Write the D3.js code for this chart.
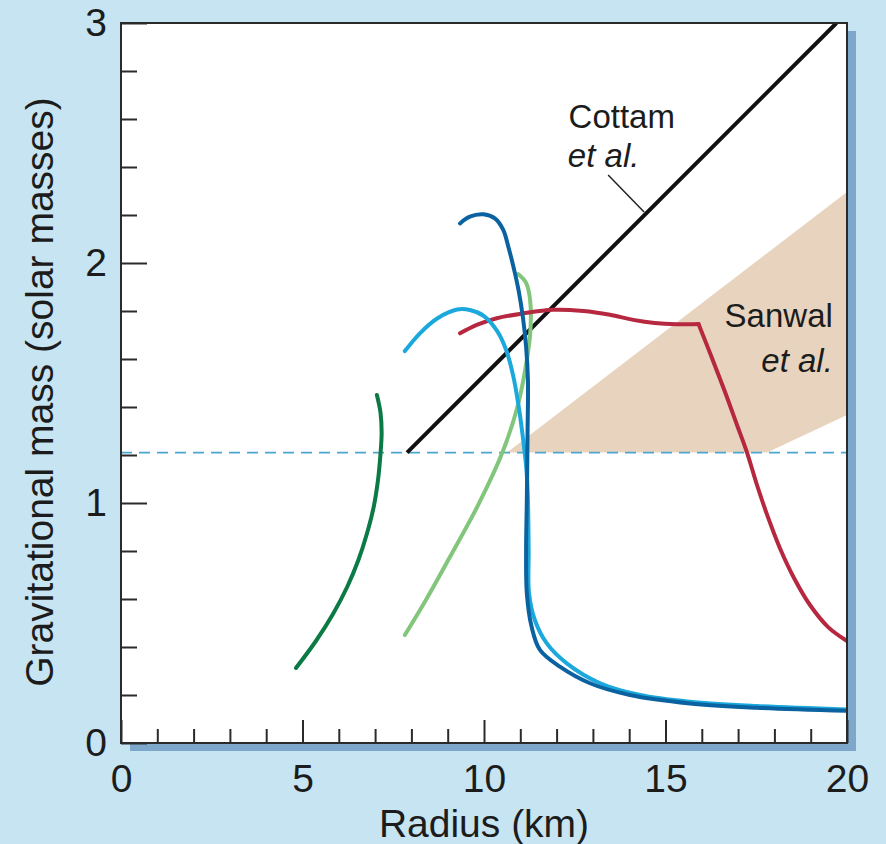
<!DOCTYPE html>
<html>
<head>
<meta charset="utf-8">
<script src="https://cdn.jsdelivr.net/npm/d3@7"></script>
<style>
  html, body { margin: 0; padding: 0; background: #c6e4f1; }
  svg { display: block; }
  text { font-family: "Liberation Sans", Arial, Helvetica, sans-serif; fill: #1c1c1c; }
</style>
</head>
<body>
<svg id="chart" width="886" height="844"></svg>
<script>
// Axis ranges and ticks
const xDomain = [0, 20];
const yDomain = [0, 3];
const xMajorTicks = [0, 5, 10, 15, 20];
const xMinorTicks = [1, 2, 3, 4, 6, 7, 8, 9, 11, 12, 13, 14, 16, 17, 18, 19];
const yMajorTicks = [0, 1, 2, 3];
const yMinorTicks = [0.2, 0.4, 0.6, 0.8, 1.2, 1.4, 1.6, 1.8, 2.2, 2.4, 2.6, 2.8];

// Lower bound on the mass (solar masses), dashed
const massFloor = 1.21;

// Cottam et al. constraint: a straight M-R relation [radius km, mass]
const cottamLine = [[7.88, 1.21], [19.71, 3.0]];

// Sanwal et al. allowed band [radius km, mass]
const sanwalBand = [[10.63, 1.21], [20, 2.296], [20, 1.367], [17.8, 1.21]];

// Mass-radius curves of the equations of state [radius km, mass]
const eosDarkGreen = [
  [7.05, 1.45], [7.15, 1.375], [7.18, 1.292], [7.15, 1.208], [7.08, 1.096],
  [6.96, 0.983], [6.78, 0.875], [6.54, 0.7625], [6.23, 0.65], [5.84, 0.5375],
  [5.37, 0.425], [4.82, 0.3125]
];
const eosLightGreen = [
  [10.94, 1.954], [11.16, 1.917], [11.27, 1.846], [11.28, 1.721], [11.18, 1.596],
  [10.92, 1.40], [10.50, 1.208], [9.81, 0.983], [9.06, 0.775], [8.40, 0.596],
  [7.82, 0.45]
];
const eosCyan = [
  [7.82, 1.633], [8.24, 1.708], [8.71, 1.769], [9.26, 1.806], [9.61, 1.804],
  [10.0, 1.779], [10.36, 1.717], [10.61, 1.6375], [10.80, 1.533], [10.95, 1.408],
  [11.07, 1.275], [11.17, 1.1375], [11.21, 1.0125], [11.23, 0.804], [11.24, 0.625],
  [11.40, 0.5125], [11.73, 0.415], [12.28, 0.332], [13.20, 0.249], [14.30, 0.200],
  [15.67, 0.172], [17.51, 0.154], [20.0, 0.140]
];
const eosBlue = [
  [9.34, 2.165], [9.61, 2.193], [9.98, 2.203], [10.30, 2.186], [10.53, 2.138],
  [10.67, 2.068], [10.81, 1.985], [10.95, 1.888], [11.07, 1.776], [11.16, 1.651],
  [11.21, 1.513], [11.20, 1.292], [11.18, 1.013], [11.16, 0.804], [11.18, 0.624],
  [11.31, 0.485], [11.54, 0.388], [12.09, 0.318], [12.92, 0.249], [14.02, 0.200],
  [15.67, 0.165], [17.51, 0.147], [20.0, 0.134]
];
// Red curve: a smooth plateau, then a kinked drop
const eosRedPlateau = [
  [9.34, 1.707], [9.80, 1.742], [10.35, 1.770], [11.08, 1.790], [11.90, 1.805],
  [12.74, 1.800], [13.47, 1.784], [14.11, 1.763], [14.70, 1.750], [15.30, 1.745],
  [15.91, 1.746]
];
const eosRedDrop = [
  [15.91, 1.746], [16.28, 1.604], [16.64, 1.4625], [16.97, 1.325], [17.25, 1.208],
  [17.52, 1.075], [17.82, 0.942], [18.15, 0.8125], [18.54, 0.6875], [18.98, 0.575],
  [19.48, 0.483], [20.0, 0.425]
];

const svg = d3.select("#chart");
const W = 886, H = 844;
const margin = { top: 23, right: 39, bottom: 101, left: 121 };
const pw = W - margin.left - margin.right;
const ph = H - margin.top - margin.bottom;

const x = d3.scaleLinear().domain(xDomain).range([0, pw]);
const y = d3.scaleLinear().domain(yDomain).range([ph, 0]);

// drop shadow behind the plot panel
svg.append("rect")
  .attr("x", margin.left + 9).attr("y", margin.top + 8)
  .attr("width", pw).attr("height", ph)
  .attr("fill", "#7ea8cb");

const g = svg.append("g").attr("transform", `translate(${margin.left},${margin.top})`);

g.append("rect").attr("width", pw).attr("height", ph).attr("fill", "#ffffff");

g.append("clipPath").attr("id", "plotClip")
  .append("rect").attr("width", pw).attr("height", ph);

const plot = g.append("g").attr("clip-path", "url(#plotClip)");

// Sanwal band
plot.append("path")
  .datum(sanwalBand)
  .attr("d", d3.line().x(d => x(d[0])).y(d => y(d[1])).curve(d3.curveLinearClosed))
  .attr("fill", "#e8d4be");

// mass floor
plot.append("line")
  .attr("x1", x(0)).attr("x2", x(20))
  .attr("y1", y(massFloor)).attr("y2", y(massFloor))
  .attr("stroke", "#4aa6cf").attr("stroke-width", 1.6)
  .attr("stroke-dasharray", "11,7");

const straight = d3.line().x(d => x(d[0])).y(d => y(d[1]));
const smooth = d3.line().x(d => x(d[0])).y(d => y(d[1])).curve(d3.curveCatmullRom.alpha(0.5));

// Cottam line
plot.append("path").datum(cottamLine).attr("d", straight)
  .attr("fill", "none").attr("stroke", "#111").attr("stroke-width", 4);

// leader from the Cottam label to its line
plot.append("line")
  .attr("x1", x(13.42)).attr("y1", y(2.367))
  .attr("x2", x(14.41)).attr("y2", y(2.2125))
  .attr("stroke", "#222").attr("stroke-width", 1.5);

const curves = [
  { data: eosDarkGreen, color: "#0b7a45" },
  { data: eosLightGreen, color: "#82c67c" },
  { data: eosRedPlateau, color: "#b5283f" },
  { data: eosRedDrop, color: "#b5283f" },
  { data: eosCyan, color: "#1ba8dc" },
  { data: eosBlue, color: "#0b62a0" }
];
curves.forEach(c => {
  plot.append("path").datum(c.data).attr("d", smooth)
    .attr("fill", "none").attr("stroke", c.color)
    .attr("stroke-width", 4).attr("stroke-linecap", "round").attr("stroke-linejoin", "round");
});

// Axes with inward ticks
const tickStroke = "#2a2a2a";
const axisFont = 39;

const yMajor = g.append("g").call(d3.axisLeft(y).tickValues(yMajorTicks).tickSize(-26).tickPadding(14).tickFormat(d3.format("d")));
const yMinor = g.append("g").call(d3.axisLeft(y).tickValues(yMinorTicks).tickSize(-16).tickFormat(""));
const xMajor = g.append("g").attr("transform", `translate(0,${ph})`)
  .call(d3.axisBottom(x).tickValues(xMajorTicks).tickSize(-23).tickPadding(21).tickFormat(d3.format("d")));
const xMinor = g.append("g").attr("transform", `translate(0,${ph})`)
  .call(d3.axisBottom(x).tickValues(xMinorTicks).tickSize(-14).tickFormat(""));

[yMajor, yMinor, xMajor, xMinor].forEach(a => {
  a.select(".domain").remove();
  a.selectAll(".tick line").attr("stroke", tickStroke).attr("stroke-width", 2);
  a.selectAll(".tick text").attr("font-size", axisFont).attr("fill", "#1c1c1c")
    .style("font-family", "'Liberation Sans', Arial, Helvetica, sans-serif");
});

// panel frame
g.append("rect").attr("width", pw).attr("height", ph)
  .attr("fill", "none").attr("stroke", "#2a2a2a").attr("stroke-width", 2);

// Axis titles
svg.append("text")
  .attr("x", margin.left + pw / 2).attr("y", 837)
  .attr("text-anchor", "middle").attr("font-size", axisFont)
  .text("Radius (km)");

svg.append("text")
  .attr("transform", `translate(53,${margin.top + ph / 2 + 9}) rotate(-90)`)
  .attr("text-anchor", "middle").attr("font-size", axisFont)
  .text("Gravitational mass (solar masses)");

// Annotations
const noteFont = 33;
g.append("text").attr("x", x(12.33)).attr("y", y(2.5625)).attr("font-size", noteFont).text("Cottam");
g.append("text").attr("x", x(12.31)).attr("y", y(2.4)).attr("font-size", noteFont)
  .attr("font-style", "italic").text("et al.");
g.append("text").attr("x", x(19.61)).attr("y", y(1.733)).attr("font-size", noteFont)
  .attr("text-anchor", "end").text("Sanwal");
g.append("text").attr("x", x(19.61)).attr("y", y(1.546)).attr("font-size", noteFont)
  .attr("text-anchor", "end").attr("font-style", "italic").text("et al.");
</script>
</body>
</html>
